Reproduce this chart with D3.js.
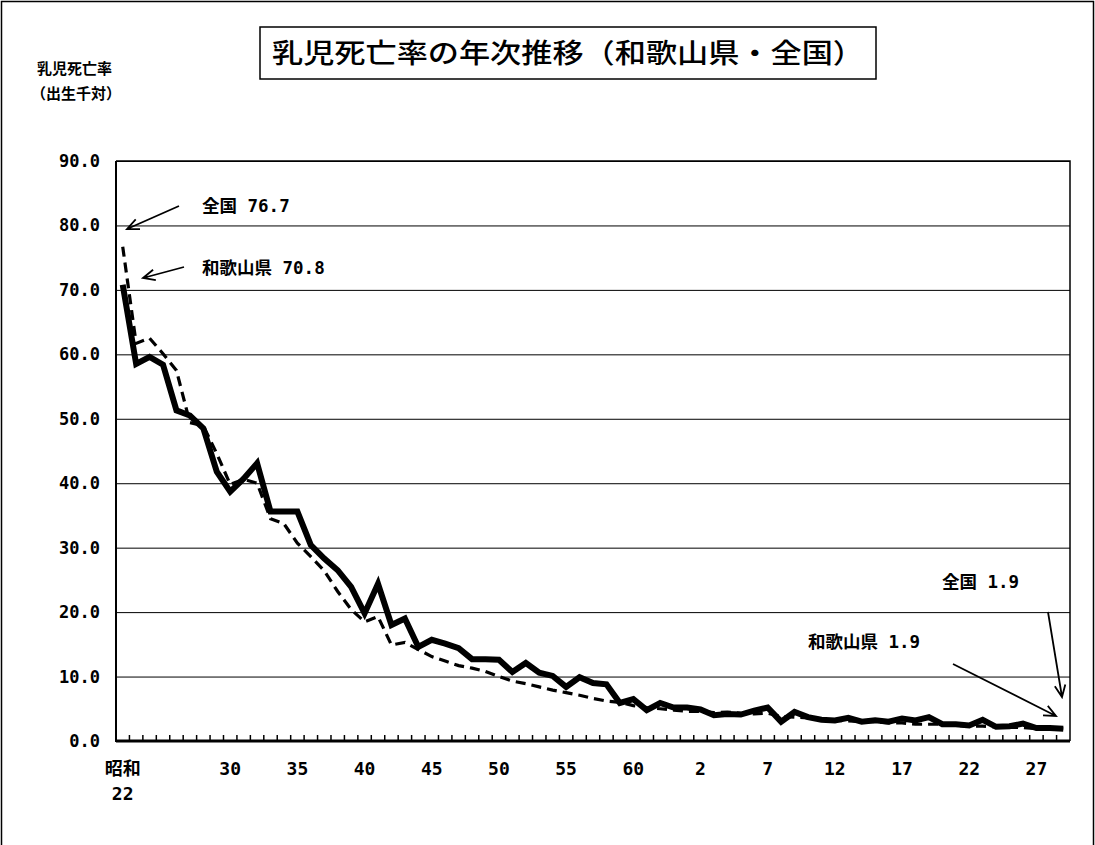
<!DOCTYPE html>
<html><head><meta charset="utf-8">
<script src="https://cdn.jsdelivr.net/npm/d3@7"></script>
<style>
html,body{margin:0;padding:0;background:#fff;}
svg{display:block;}
</style>
</head><body>
<svg id="chart" width="1095" height="845"></svg>
<script>
// ---- data ----
const years = ["昭和22","昭和23","昭和24","昭和25","昭和26","昭和27","昭和28","昭和29","昭和30","昭和31",
 "昭和32","昭和33","昭和34","昭和35","昭和36","昭和37","昭和38","昭和39","昭和40","昭和41",
 "昭和42","昭和43","昭和44","昭和45","昭和46","昭和47","昭和48","昭和49","昭和50","昭和51",
 "昭和52","昭和53","昭和54","昭和55","昭和56","昭和57","昭和58","昭和59","昭和60","昭和61",
 "昭和62","昭和63","平成元","平成2","平成3","平成4","平成5","平成6","平成7","平成8",
 "平成9","平成10","平成11","平成12","平成13","平成14","平成15","平成16","平成17","平成18",
 "平成19","平成20","平成21","平成22","平成23","平成24","平成25","平成26","平成27","平成28","平成29"];
const wakayama = [70.8,58.5,59.6,58.4,51.3,50.5,48.5,41.8,38.7,40.7,
 43.1,35.6,35.6,35.6,30.4,28.3,26.5,23.9,19.8,24.4,
 18.0,19.0,14.6,15.7,15.1,14.4,12.7,12.7,12.6,10.7,
 12.1,10.6,10.1,8.4,9.9,9.0,8.8,5.9,6.5,4.8,
 5.9,5.2,5.2,4.9,4.0,4.2,4.1,4.7,5.2,3.0,
 4.5,3.7,3.3,3.2,3.6,3.0,3.2,3.0,3.5,3.2,
 3.7,2.6,2.6,2.4,3.3,2.2,2.3,2.7,2.0,2.0,1.9];
const zenkoku = [76.7,61.7,62.5,60.1,57.5,49.4,48.9,44.6,39.8,40.6,
 40.0,34.5,33.7,30.7,28.6,26.4,23.2,20.4,18.5,19.3,
 14.9,15.3,14.2,13.1,12.4,11.7,11.3,10.8,10.0,9.3,
 8.9,8.4,7.9,7.5,7.1,6.6,6.2,6.0,5.5,5.2,
 5.0,4.8,4.6,4.6,4.4,4.5,4.3,4.2,4.3,3.8,
 3.7,3.6,3.4,3.2,3.1,3.0,3.0,2.8,2.8,2.6,
 2.6,2.6,2.4,2.3,2.3,2.2,2.1,2.1,1.9,2.0,1.9];
const tickYears = ["昭和22","昭和30","昭和35","昭和40","昭和45","昭和50","昭和55","昭和60","平成2","平成7","平成12","平成17","平成22","平成27"];
const tickLabels = [["昭和","22"],["30"],["35"],["40"],["45"],["50"],["55"],["60"],["2"],["7"],["12"],["17"],["22"],["27"]];
const yTicks = [0,10,20,30,40,50,60,70,80,90];
const titleText = "乳児死亡率の年次推移（和歌山県・全国）";
const yTitle = ["乳児死亡率","（出生千対）"];
const notes = [
  {text:"全国 76.7"},
  {text:"和歌山県 70.8"},
  {text:"全国 1.9"},
  {text:"和歌山県 1.9"}
];

// ---- layout ----
const svg = d3.select("#chart");
const L = 116, R = 1070, T = 161, B = 741;
const monoFont = "'DejaVu Sans Mono','Noto Sans CJK JP',monospace";
const cjkFont = "'Noto Sans CJK JP','DejaVu Sans',sans-serif";

// outer frame
svg.append("path").attr("d","M1.5,850V1.5H1093.5V850").attr("fill","none").attr("stroke","#000").attr("stroke-width",1.5);

const x = d3.scaleBand().domain(years).range([L, R]).padding(0);
const y = d3.scaleLinear().domain([0, 90]).range([B, T]);
const cx = d => x(d) + x.bandwidth()/2;

// y axis with gridlines
const yAxis = svg.append("g").attr("transform",`translate(${L},0)`)
  .call(d3.axisLeft(y).tickValues(yTicks).tickFormat(d3.format(".1f")).tickSize(-(R-L)).tickPadding(16));
yAxis.select(".domain").remove();
yAxis.selectAll(".tick line").attr("stroke","#000").attr("stroke-width",1);
yAxis.selectAll(".tick text").attr("font-family",monoFont).attr("font-size",17).attr("font-weight","bold").attr("fill","#000");

// plot frame (top & right)
svg.append("path").attr("d",`M${L},${T}H${R}V${B}`).attr("fill","none").attr("stroke","#000").attr("stroke-width",1.5);

// x axis labels
const xAxis = svg.append("g").attr("transform",`translate(0,${B})`)
  .call(d3.axisBottom(x).tickValues(tickYears).tickSize(0).tickPadding(21).tickFormat(() => ""));
xAxis.select(".domain").remove();
xAxis.selectAll(".tick").each(function(d){
  const i = tickYears.indexOf(d);
  const t = d3.select(this).select("text").text(null)
    .attr("font-family",monoFont).attr("font-size",18).attr("font-weight","bold").attr("fill","#000");
  tickLabels[i].forEach((s,k) => {
    t.append("tspan").attr("x",0).attr("dy", k===0 ? "0.71em" : "1.4em").text(s);
  });
});

// x tick marks at category boundaries (inside)
svg.append("g").selectAll("line").data(years.slice(1)).join("line")
  .attr("x1", d => x(d)).attr("x2", d => x(d))
  .attr("y1", B).attr("y2", B-6).attr("stroke","#000").attr("stroke-width",1.5);

// axes lines
svg.append("line").attr("x1",L).attr("x2",R).attr("y1",B).attr("y2",B).attr("stroke","#000").attr("stroke-width",3);
svg.append("line").attr("x1",L).attr("x2",L).attr("y1",T).attr("y2",B+1).attr("stroke","#000").attr("stroke-width",2);

// lines
const line = arr => d3.line().x((d,i) => cx(years[i])).y(d => y(d))(arr);
svg.append("path").attr("d", line(zenkoku)).attr("fill","none").attr("stroke","#000")
  .attr("stroke-width",3.2).attr("stroke-dasharray","10,6");
svg.append("path").attr("d", line(wakayama)).attr("fill","none").attr("stroke","#000")
  .attr("stroke-width",6).attr("stroke-linejoin","miter");

// title box
svg.append("rect").attr("x",260).attr("y",27).attr("width",616).attr("height",52)
  .attr("fill","#fff").attr("stroke","#000").attr("stroke-width",1.5);
svg.append("text").attr("x",272).attr("y",63).attr("font-family",cjkFont).attr("font-size",27)
  .attr("font-weight",500)
  .attr("textLength",592).attr("lengthAdjust","spacingAndGlyphs").attr("fill","#000").text(titleText);

// y title
svg.append("text").attr("x",37).attr("y",74).attr("font-family",cjkFont).attr("font-size",15).attr("font-weight","bold").text(yTitle[0]);
svg.append("text").attr("x",31).attr("y",99).attr("font-family",cjkFont).attr("font-size",15).attr("font-weight","bold").text(yTitle[1]);

// annotations
const notePos = [
  {tx:202, ty:212, x1:179, y1:206, x2:127, y2:229},
  {tx:202, ty:274, x1:184, y1:267, x2:143, y2:278},
  {tx:942, ty:588, x1:1048, y1:612, x2:1062, y2:697},
  {tx:808, ty:648, x1:953, y1:664, x2:1056, y2:716}
];
notes.forEach((n,i) => {
  const p = notePos[i];
  svg.append("text").attr("x",p.tx).attr("y",p.ty).attr("font-family",monoFont).attr("font-size",17.5)
    .attr("font-weight","bold").attr("fill","#000").text(n.text);
  const ang = Math.atan2(p.y2-p.y1, p.x2-p.x1);
  const hl = 13, ha = 0.42;
  const a1 = [p.x2 - hl*Math.cos(ang-ha), p.y2 - hl*Math.sin(ang-ha)];
  const a2 = [p.x2 - hl*Math.cos(ang+ha), p.y2 - hl*Math.sin(ang+ha)];
  svg.append("path").attr("d",`M${p.x1},${p.y1}L${p.x2},${p.y2}M${a1[0]},${a1[1]}L${p.x2},${p.y2}L${a2[0]},${a2[1]}`)
    .attr("fill","none").attr("stroke","#000").attr("stroke-width",1.8);
});
</script>
</body></html>
